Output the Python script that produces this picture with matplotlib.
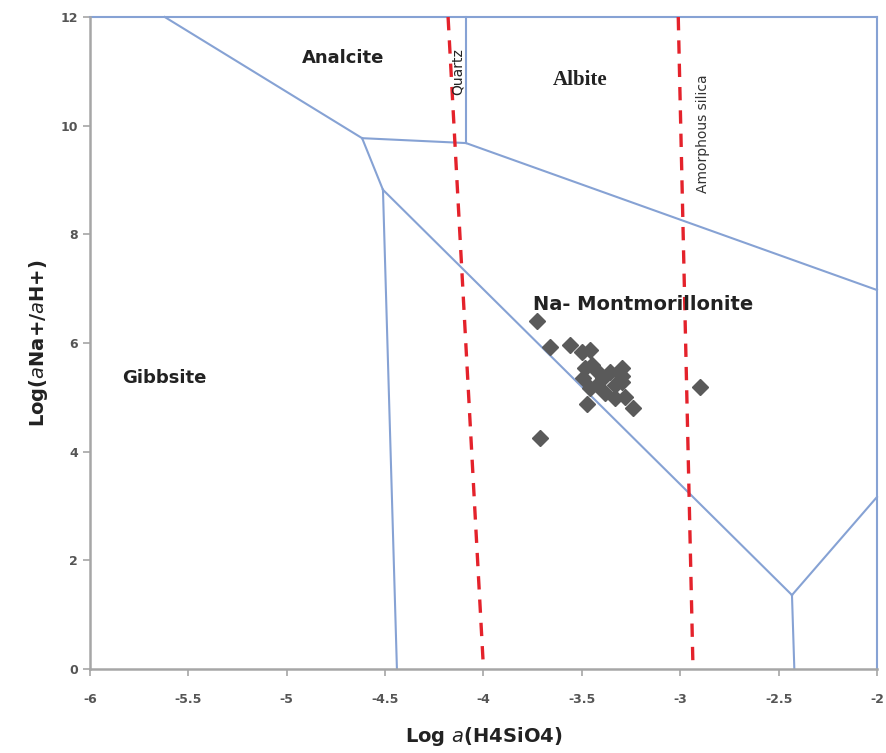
import numpy as np
import matplotlib
matplotlib.use("Agg")
import matplotlib.pyplot as plt

###########################################################################
###                   donnees lues sur le diagramme                     ###
###########################################################################

# points des echantillons : Log a(H4SiO4) et Log(aNa+/aH+)
echX = [-3.728, -3.662, -3.560, -3.499, -3.459, -3.484, -3.449, -3.494,
        -3.418, -3.393, -3.357, -3.332, -3.296, -3.383, -3.332, -3.281,
        -3.296, -3.296, -3.474, -3.240, -2.900, -3.713, -3.423, -3.459]
echY = [6.405, 5.926, 5.963, 5.834, 5.871, 5.539, 5.595, 5.355,
        5.466, 5.355, 5.466, 5.227, 5.282, 5.079, 4.987, 5.006,
        5.540, 5.392, 4.877, 4.803, 5.190, 4.251, 5.227, 5.171]

# limites des domaines de stabilite (segments x, y)
limites = [
    ([-6.0, -2.0], [12.0, 12.0]),          # bord haut
    ([-2.0, -2.0], [0.0, 12.0]),           # bord droit
    ([-5.62, -4.617], [12.0, 9.77]),       # analcite / gibbsite
    ([-4.617, -4.089], [9.77, 9.68]),      # analcite / na-montmorillonite
    ([-4.089, -4.089], [9.68, 12.0]),      # analcite / albite
    ([-4.089, -2.0], [9.68, 6.975]),       # albite / na-montmorillonite
    ([-4.617, -4.511], [9.77, 8.82]),
    ([-4.511, -4.44], [8.82, 0.0]),        # gibbsite / kaolinite
    ([-4.511, -2.432], [8.82, 1.36]),      # kaolinite / na-montmorillonite
    ([-2.432, -2.0], [1.36, 3.165]),
    ([-2.432, -2.42], [1.36, 0.0]),
]

# saturation quartz et silice amorphe
quartzX = [-4.18, -4.0]
silexX = [-3.01, -2.935]
silY = [12.0, 0.0]

xticks = [-6, -5.5, -5, -4.5, -4, -3.5, -3, -2.5, -2]
xlabels = ["-6", "-5.5", "-5", "-4.5", "-4", "-3.5", "-3", "-2.5", "-2"]
yticks = [0, 2, 4, 6, 8, 10, 12]

##########################################################################
############################  Fonction Main ##############################
##########################################################################

def main():
    fig = plt.figure(figsize=(8.86, 7.53), dpi=100)
    ax = fig.add_axes([0.1016, 0.1116, 0.8882, 0.8658])

    bleu = "#86a2d4"
    for lx, ly in limites:
        ax.plot(lx, ly, color=bleu, linewidth=1.5, clip_on=False, zorder=2)

    ax.plot(quartzX, silY, color="#e4222b", linewidth=2.4,
            linestyle=(0, (4, 3)), clip_on=False, zorder=3)
    ax.plot(silexX, silY, color="#e4222b", linewidth=2.4,
            linestyle=(0, (4, 3)), clip_on=False, zorder=3)

    ax.plot(echX, echY, linestyle="none", marker="D", markersize=8,
            color="#5a5a5a", zorder=4)

    # noms des domaines
    ax.text(-4.714, 11.245, "Analcite", fontsize=13, fontweight="bold",
            ha="center", va="center", color="#222222")
    ax.text(-3.51, 10.84, "Albite", fontsize=15, fontweight="bold",
            family="Liberation Serif", ha="center", va="center", color="#222222")
    ax.text(-4.13, 11.0, "Quartz", fontsize=10, rotation=90,
            ha="center", va="center", color="#222222")
    ax.text(-2.884, 9.86, "Amorphous silica", fontsize=10, rotation=90,
            ha="center", va="center", color="#333333")
    ax.text(-3.19, 6.70, "Na- Montmorillonite", fontsize=14, fontweight="bold",
            ha="center", va="center", color="#222222")
    ax.text(-5.62, 5.355, "Gibbsite", fontsize=13, fontweight="bold",
            ha="center", va="center", color="#222222")

    # axes
    ax.set_xlim(-6, -2)
    ax.set_ylim(0, 12)
    ax.set_xticks(xticks)
    ax.set_xticklabels(xlabels)
    ax.set_yticks(yticks)
    for s in ["top", "right"]:
        ax.spines[s].set_visible(False)
    for s in ["left", "bottom"]:
        ax.spines[s].set_color("#a6a6a6")
        ax.spines[s].set_linewidth(1.8)
    ax.tick_params(colors="#a6a6a6", labelcolor="#555555", labelsize=9,
                   length=5, width=1.2)
    for t in ax.get_xticklabels() + ax.get_yticklabels():
        t.set_fontweight("bold")
    ax.tick_params(axis="x", pad=12)

    ax.set_xlabel(r"Log $\mathit{a}$(H4SiO4)", fontsize=14, fontweight="semibold",
                  color="#222222", labelpad=14)
    ax.set_ylabel(r"Log($\mathit{a}$Na+/$\mathit{a}$H+)", fontsize=14,
                  fontweight="semibold", color="#222222", labelpad=8)

    plt.savefig("out.png", dpi=100)

main()
